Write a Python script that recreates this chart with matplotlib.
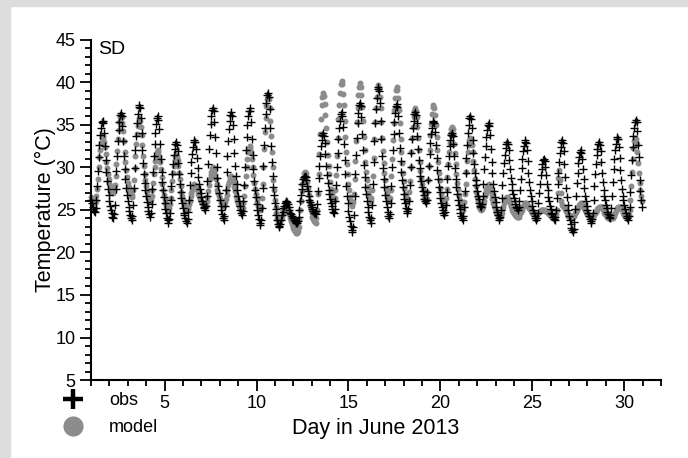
import numpy as np
import matplotlib
matplotlib.use("Agg")
import matplotlib.pyplot as plt
from matplotlib.lines import Line2D
from matplotlib.patches import Rectangle

plt.rcParams['font.family'] = ['Liberation Sans', 'DejaVu Sans']

# hourly temperatures (deg C), one row per day of June 2013, hours 0..23
first_day = 1
hours = list(range(24))

obs_temp = [
  [26.2, 25.8, 25.4, 25.1, 24.9, 24.8, 25.2, 26.2, 27.8, 29.6, 31.2, 32.6, 33.8, 34.6, 35.3, 35.5, 35.2, 34.1, 32.5, 30.9, 29.5, 28.4, 27.5, 26.8],
  [26.1, 25.5, 25.0, 24.6, 24.2, 24.0, 24.5, 25.6, 27.5, 29.6, 31.4, 33.1, 34.4, 35.4, 36.2, 36.4, 36.0, 34.9, 33.1, 31.4, 29.8, 28.6, 27.6, 26.8],
  [26.1, 25.4, 24.9, 24.4, 24.1, 23.8, 24.3, 25.6, 27.6, 29.9, 32.0, 33.7, 35.2, 36.3, 37.1, 37.4, 37.0, 35.8, 34.0, 32.1, 30.5, 29.2, 28.2, 27.4],
  [26.6, 25.9, 25.4, 24.9, 24.5, 24.2, 24.7, 25.7, 27.5, 29.5, 31.3, 32.8, 34.1, 35.1, 35.8, 36.0, 35.6, 34.5, 32.8, 31.0, 29.5, 28.3, 27.3, 26.5],
  [25.8, 25.1, 24.6, 24.1, 23.8, 23.5, 23.9, 24.7, 26.2, 27.8, 29.2, 30.4, 31.5, 32.2, 32.8, 33.0, 32.7, 31.9, 30.5, 29.2, 28.1, 27.1, 26.4, 25.8],
  [25.2, 24.7, 24.4, 24.0, 23.7, 23.5, 23.9, 24.8, 26.2, 27.9, 29.3, 30.6, 31.6, 32.4, 33.0, 33.2, 33.0, 32.2, 31.1, 29.9, 28.9, 28.1, 27.5, 27.0],
  [26.5, 26.1, 25.7, 25.4, 25.2, 25.0, 25.5, 26.6, 28.4, 30.4, 32.2, 33.8, 35.1, 36.0, 36.8, 37.0, 36.6, 35.4, 33.6, 31.7, 30.1, 28.8, 27.8, 27.0],
  [26.2, 25.5, 25.0, 24.5, 24.1, 23.8, 24.3, 25.5, 27.4, 29.5, 31.4, 33.1, 34.5, 35.5, 36.2, 36.5, 36.1, 35.0, 33.4, 31.7, 30.2, 29.0, 28.0, 27.3],
  [26.6, 26.0, 25.5, 25.0, 24.6, 24.4, 24.9, 26.0, 27.9, 30.1, 32.0, 33.6, 35.0, 36.0, 36.7, 37.0, 36.6, 35.3, 33.4, 31.5, 29.8, 28.4, 27.3, 26.5],
  [25.7, 25.0, 24.4, 23.9, 23.5, 23.2, 23.8, 25.2, 27.6, 30.2, 32.6, 34.6, 36.3, 37.6, 38.5, 38.8, 38.3, 36.9, 34.7, 32.5, 30.6, 29.0, 27.7, 26.8],
  [25.8, 25.1, 24.4, 23.8, 23.3, 23.0, 23.1, 23.4, 23.8, 24.4, 24.8, 25.2, 25.5, 25.8, 25.9, 26.0, 25.9, 25.7, 25.4, 25.0, 24.7, 24.5, 24.3, 24.1],
  [24.0, 23.8, 23.7, 23.6, 23.5, 23.5, 23.7, 24.2, 25.0, 26.0, 26.8, 27.5, 28.1, 28.6, 28.9, 29.0, 28.9, 28.5, 27.8, 27.2, 26.7, 26.2, 25.9, 25.6],
  [25.3, 25.1, 24.9, 24.7, 24.6, 24.5, 24.9, 25.7, 27.2, 28.8, 30.2, 31.4, 32.5, 33.2, 33.8, 34.0, 33.7, 32.9, 31.6, 30.2, 29.1, 28.2, 27.4, 26.9],
  [26.3, 25.8, 25.5, 25.1, 24.8, 24.6, 25.1, 26.1, 27.9, 30.0, 31.7, 33.3, 34.6, 35.5, 36.3, 36.5, 36.1, 34.8, 32.8, 30.9, 29.2, 27.8, 26.6, 25.8],
  [24.9, 24.2, 23.7, 23.1, 22.7, 22.4, 23.0, 24.4, 26.7, 29.2, 31.5, 33.5, 35.2, 36.4, 37.3, 37.6, 37.2, 35.9, 33.9, 32.0, 30.3, 28.9, 27.7, 26.9],
  [26.0, 25.3, 24.8, 24.2, 23.8, 23.5, 24.1, 25.6, 28.0, 30.7, 33.1, 35.2, 36.9, 38.2, 39.2, 39.5, 39.0, 37.6, 35.5, 33.3, 31.4, 29.9, 28.7, 27.7],
  [26.8, 26.0, 25.4, 24.8, 24.3, 24.0, 24.5, 25.8, 27.8, 30.1, 32.1, 33.9, 35.3, 36.4, 37.2, 37.5, 37.1, 36.0, 34.1, 32.3, 30.8, 29.5, 28.5, 27.7],
  [26.9, 26.3, 25.8, 25.2, 24.9, 24.6, 25.1, 26.1, 27.9, 30.0, 31.7, 33.3, 34.6, 35.5, 36.3, 36.5, 36.2, 35.2, 33.7, 32.2, 30.9, 29.9, 29.0, 28.4],
  [27.7, 27.2, 26.8, 26.3, 26.0, 25.8, 26.2, 27.1, 28.5, 30.2, 31.6, 32.9, 33.9, 34.7, 35.3, 35.5, 35.2, 34.2, 32.6, 31.1, 29.7, 28.6, 27.7, 27.1],
  [26.4, 25.8, 25.4, 25.0, 24.6, 24.4, 24.8, 25.6, 27.1, 28.7, 30.2, 31.4, 32.5, 33.2, 33.8, 34.0, 33.7, 32.8, 31.3, 29.9, 28.7, 27.7, 26.9, 26.2],
  [25.6, 25.1, 24.7, 24.3, 24.0, 23.8, 24.3, 25.4, 27.2, 29.3, 31.1, 32.7, 34.0, 35.0, 35.8, 36.0, 35.7, 34.7, 33.2, 31.7, 30.4, 29.4, 28.5, 27.9],
  [27.2, 26.7, 26.3, 25.8, 25.5, 25.3, 25.7, 26.6, 28.1, 29.8, 31.2, 32.5, 33.6, 34.4, 35.0, 35.2, 34.9, 33.8, 32.2, 30.6, 29.3, 28.1, 27.2, 26.5],
  [25.9, 25.3, 24.8, 24.4, 24.0, 23.8, 24.2, 25.0, 26.4, 27.9, 29.3, 30.5, 31.5, 32.3, 32.8, 33.0, 32.8, 32.0, 30.9, 29.8, 28.8, 28.0, 27.4, 26.9],
  [26.4, 26.0, 25.7, 25.4, 25.2, 25.0, 25.3, 26.1, 27.3, 28.7, 29.9, 31.0, 31.9, 32.5, 33.0, 33.2, 32.9, 32.1, 30.8, 29.4, 28.3, 27.4, 26.6, 26.1],
  [25.5, 25.0, 24.7, 24.3, 24.0, 23.8, 24.1, 24.7, 25.8, 27.0, 28.1, 29.1, 29.8, 30.4, 30.9, 31.0, 30.8, 30.1, 29.1, 28.1, 27.3, 26.5, 26.0, 25.5],
  [25.1, 24.7, 24.5, 24.2, 23.9, 23.8, 24.2, 25.0, 26.4, 28.0, 29.4, 30.7, 31.7, 32.4, 33.0, 33.2, 32.9, 31.9, 30.4, 28.9, 27.6, 26.5, 25.6, 25.0],
  [24.3, 23.8, 23.4, 22.9, 22.6, 22.4, 22.8, 23.6, 25.1, 26.7, 28.2, 29.4, 30.5, 31.2, 31.8, 32.0, 31.7, 31.0, 29.8, 28.6, 27.6, 26.7, 26.1, 25.5],
  [25.0, 24.6, 24.3, 23.9, 23.7, 23.5, 23.9, 24.7, 26.2, 27.8, 29.2, 30.4, 31.5, 32.2, 32.8, 33.0, 32.7, 31.9, 30.7, 29.4, 28.3, 27.4, 26.7, 26.2],
  [25.6, 25.2, 24.8, 24.5, 24.2, 24.0, 24.4, 25.2, 26.7, 28.3, 29.8, 31.0, 32.1, 32.8, 33.4, 33.6, 33.3, 32.4, 31.1, 29.7, 28.5, 27.5, 26.7, 26.2],
  [25.6, 25.1, 24.7, 24.3, 24.0, 23.8, 24.3, 25.3, 27.1, 29.1, 30.9, 32.4, 33.7, 34.7, 35.4, 35.6, 35.3, 34.3, 32.7, 31.2, 28.5, 27.2, 26.2, 25.4],
]

model_temp = [
  [26.5, 26.3, 26.1, 26.0, 25.9, 25.8, 26.0, 26.6, 27.5, 28.7, 30.0, 31.2, 32.1, 32.9, 33.5, 33.7, 33.5, 33.0, 32.4, 31.6, 30.7, 29.9, 29.2, 28.7],
  [28.2, 27.8, 27.5, 27.3, 27.1, 27.0, 27.3, 27.9, 29.0, 30.4, 31.9, 33.3, 34.4, 35.3, 35.9, 36.2, 35.9, 35.2, 34.3, 33.1, 31.8, 30.7, 29.7, 28.9],
  [28.2, 27.7, 27.2, 26.9, 26.6, 26.5, 26.8, 27.4, 28.5, 29.9, 31.4, 32.8, 33.9, 34.9, 35.5, 35.8, 35.5, 34.8, 33.8, 32.7, 31.4, 30.2, 29.2, 28.5],
  [27.8, 27.2, 26.7, 26.4, 26.1, 26.0, 26.2, 26.6, 27.3, 28.2, 29.2, 30.1, 30.8, 31.4, 31.8, 32.0, 31.8, 31.3, 30.6, 29.8, 28.9, 28.0, 27.3, 26.8],
  [26.3, 25.8, 25.5, 25.3, 25.1, 25.0, 25.2, 25.7, 26.4, 27.4, 28.4, 29.4, 30.2, 30.9, 31.3, 31.5, 31.3, 30.9, 30.2, 29.4, 28.6, 27.8, 27.1, 26.6],
  [26.2, 25.8, 25.5, 25.3, 25.1, 25.0, 25.1, 25.3, 25.7, 26.1, 26.6, 27.0, 27.4, 27.7, 27.9, 28.0, 27.9, 27.8, 27.5, 27.2, 26.9, 26.6, 26.3, 26.1],
  [26.0, 25.8, 25.7, 25.6, 25.5, 25.5, 25.6, 26.0, 26.5, 27.2, 27.9, 28.6, 29.1, 29.5, 29.9, 30.0, 29.9, 29.5, 29.1, 28.6, 28.0, 27.4, 27.0, 26.6],
  [26.3, 26.0, 25.8, 25.7, 25.5, 25.5, 25.6, 25.9, 26.3, 26.8, 27.4, 27.9, 28.3, 28.7, 28.9, 29.0, 28.9, 28.6, 28.2, 27.7, 27.2, 26.7, 26.3, 26.0],
  [25.7, 25.5, 25.3, 25.2, 25.0, 25.0, 25.2, 25.8, 26.7, 27.8, 29.0, 30.1, 31.0, 31.8, 32.3, 32.5, 32.3, 31.8, 31.0, 30.1, 29.1, 28.2, 27.5, 26.9],
  [26.4, 25.9, 25.5, 25.3, 25.1, 25.0, 25.4, 26.4, 28.0, 30.0, 32.2, 34.2, 35.8, 37.2, 38.1, 38.5, 38.1, 37.0, 35.5, 33.7, 31.8, 30.0, 28.5, 27.3],
  [26.2, 25.3, 24.6, 24.1, 23.7, 23.5, 23.6, 23.7, 23.9, 24.2, 24.6, 24.9, 25.1, 25.3, 25.4, 25.5, 25.4, 25.2, 24.9, 24.5, 24.1, 23.7, 23.4, 23.1],
  [22.9, 22.7, 22.5, 22.4, 22.3, 22.3, 22.5, 23.0, 23.9, 25.0, 26.1, 27.2, 28.1, 28.8, 29.3, 29.5, 29.3, 28.9, 28.3, 27.6, 26.8, 26.1, 25.5, 25.0],
  [24.6, 24.2, 23.9, 23.7, 23.6, 23.5, 24.0, 25.0, 26.9, 29.2, 31.6, 33.9, 35.7, 37.3, 38.3, 38.8, 38.4, 37.5, 36.2, 34.7, 33.0, 31.5, 30.2, 29.2],
  [28.3, 27.5, 26.9, 26.5, 26.1, 26.0, 26.4, 27.4, 29.1, 31.3, 33.5, 35.7, 37.4, 38.8, 39.8, 40.2, 39.8, 38.7, 37.3, 35.5, 33.6, 31.8, 30.4, 29.2],
  [28.1, 27.3, 26.5, 26.1, 25.7, 25.5, 25.9, 26.9, 28.7, 30.8, 33.1, 35.3, 37.0, 38.5, 39.5, 39.9, 39.5, 38.5, 37.1, 35.5, 33.6, 32.0, 30.6, 29.5],
  [28.5, 27.7, 27.0, 26.6, 26.1, 26.0, 26.4, 27.4, 29.0, 31.1, 33.3, 35.3, 37.0, 38.3, 39.3, 39.7, 39.3, 38.3, 37.0, 35.3, 33.5, 31.9, 30.5, 29.4],
  [28.5, 27.6, 27.0, 26.5, 26.1, 26.0, 26.4, 27.4, 29.0, 31.0, 33.2, 35.2, 36.8, 38.2, 39.1, 39.5, 39.1, 38.2, 36.8, 35.2, 33.4, 31.8, 30.5, 29.4],
  [28.4, 27.6, 26.9, 26.5, 26.1, 26.0, 26.3, 27.1, 28.4, 30.1, 31.8, 33.5, 34.8, 35.9, 36.7, 37.0, 36.7, 35.9, 34.8, 33.5, 32.0, 30.7, 29.6, 28.8],
  [28.0, 27.3, 26.8, 26.4, 26.1, 26.0, 26.3, 27.1, 28.5, 30.2, 32.0, 33.8, 35.1, 36.3, 37.1, 37.4, 37.0, 36.2, 35.0, 33.6, 32.0, 30.6, 29.4, 28.5],
  [27.6, 26.9, 26.3, 26.0, 25.6, 25.5, 25.8, 26.4, 27.5, 28.9, 30.4, 31.8, 32.9, 33.9, 34.5, 34.8, 34.5, 33.8, 32.8, 31.7, 30.4, 29.2, 28.2, 27.5],
  [26.8, 26.2, 25.7, 25.4, 25.1, 25.0, 25.3, 25.9, 26.9, 28.1, 29.5, 30.8, 31.8, 32.7, 33.2, 33.5, 33.2, 32.7, 31.8, 30.8, 29.7, 28.7, 27.8, 27.1],
  [26.5, 26.0, 25.6, 25.3, 25.1, 25.0, 25.1, 25.3, 25.7, 26.1, 26.6, 27.0, 27.4, 27.7, 27.9, 28.0, 27.9, 27.6, 27.2, 26.8, 26.3, 25.8, 25.5, 25.2],
  [24.9, 24.7, 24.5, 24.4, 24.2, 24.2, 24.3, 24.4, 24.7, 25.1, 25.4, 25.8, 26.0, 26.3, 26.4, 26.5, 26.4, 26.3, 26.0, 25.8, 25.5, 25.2, 25.0, 24.8],
  [24.6, 24.5, 24.4, 24.3, 24.2, 24.2, 24.2, 24.4, 24.6, 24.8, 25.0, 25.3, 25.5, 25.6, 25.8, 25.8, 25.8, 25.7, 25.5, 25.4, 25.2, 25.1, 24.9, 24.8],
  [24.7, 24.6, 24.6, 24.5, 24.5, 24.5, 24.5, 24.6, 24.7, 24.8, 24.9, 25.0, 25.0, 25.0, 25.0, 25.0, 25.0, 24.9, 24.9, 24.8, 24.7, 24.6, 24.5, 24.4],
  [24.3, 24.3, 24.2, 24.2, 24.2, 24.2, 24.3, 24.5, 25.0, 27.0, 28.8, 29.7, 28.5, 27.0, 26.0, 25.6, 25.5, 25.4, 25.3, 25.1, 24.9, 24.7, 24.5, 24.3],
  [24.4, 24.3, 24.3, 24.2, 24.2, 24.2, 24.3, 24.4, 24.6, 24.8, 25.0, 25.2, 25.4, 25.6, 25.7, 25.8, 25.8, 25.7, 25.6, 25.4, 25.2, 25.0, 24.8, 24.6],
  [24.5, 24.4, 24.3, 24.3, 24.2, 24.2, 24.2, 24.3, 24.4, 24.5, 24.7, 24.8, 25.0, 25.1, 25.2, 25.3, 25.4, 25.4, 25.4, 25.3, 25.1, 24.9, 24.7, 24.5],
  [24.4, 24.3, 24.2, 24.1, 24.1, 24.0, 24.0, 24.0, 24.0, 24.1, 24.3, 24.5, 24.7, 24.9, 25.1, 25.2, 25.3, 25.4, 25.4, 25.4, 25.3, 25.1, 24.9, 24.6],
  [24.4, 24.3, 24.3, 24.2, 24.2, 24.2, 24.4, 25.0, 26.2, 27.8, 29.5, 31.0, 32.3, 33.1, 33.5, 33.4, 32.8, 31.8, 30.5, 29.3, 28.2, 27.3, 26.6, 26.0],
]

x_ticks = [5, 10, 15, 20, 25, 30]
y_ticks = [5, 10, 15, 20, 25, 30, 35, 40, 45]
site_name = "SD"

# time in fractional days
t = np.array([d + h / 24.0 for d in range(first_day, first_day + len(obs_temp)) for h in hours])
obs = np.concatenate(obs_temp)
model = np.concatenate(model_temp)

fig = plt.figure(figsize=(6.88, 4.58), dpi=100)
fig.patch.set_facecolor("white")
# grey frame strips (left and top)
fig.patches.append(Rectangle((0, 0), 10 / 688, 1, transform=fig.transFigure, color="#dddddd", zorder=0))
fig.patches.append(Rectangle((0, 1 - 6 / 458), 1, 6 / 458, transform=fig.transFigure, color="#dddddd", zorder=0))

ax = fig.add_axes([0.1323, 0.1703, 0.8285, 0.7424])
ax.plot(t, model, "o", color="#8c8c8c", ms=4.3, mec="none", clip_on=False)
ax.plot(t, obs, "+", color="black", ms=5.5, mew=1.0, clip_on=False)

ax.set_xlim(1, 32)
ax.set_ylim(5, 45)

ax.spines["top"].set_visible(False)
ax.spines["right"].set_visible(False)
ax.spines["left"].set_linewidth(1.5)
ax.spines["bottom"].set_linewidth(1.5)

ax.set_xticks(x_ticks)
ax.set_xticks(range(1, 33), minor=True)
ax.set_yticks(y_ticks)
ax.set_yticks(range(5, 46), minor=True)
ax.tick_params(which="major", direction="out", length=8, width=1.3, labelsize=13, pad=3)
ax.tick_params(which="minor", direction="out", length=4.3, width=1.3)

ax.set_ylabel("Temperature (°C)", fontsize=15.5, labelpad=0)
ax.set_xlabel("Day in June 2013", fontsize=15.5, labelpad=4)
ax.text(0.012, 0.998, site_name, transform=ax.transAxes, fontsize=14, va="top", ha="left")

handles = [
  Line2D([], [], marker="+", color="black", ms=15, mew=3.2, linestyle="none"),
  Line2D([], [], marker="o", color="#8c8c8c", ms=14.5, mec="none", linestyle="none"),
]
fig.legend(handles, ["obs", "model"], loc="upper left", bbox_to_anchor=(62 / 688, 1 - 392 / 458),
           frameon=False, fontsize=13, handlelength=1.2, handletextpad=1.4,
           labelspacing=0.55, borderpad=0, borderaxespad=0)

fig.savefig("out.png", dpi=100)
